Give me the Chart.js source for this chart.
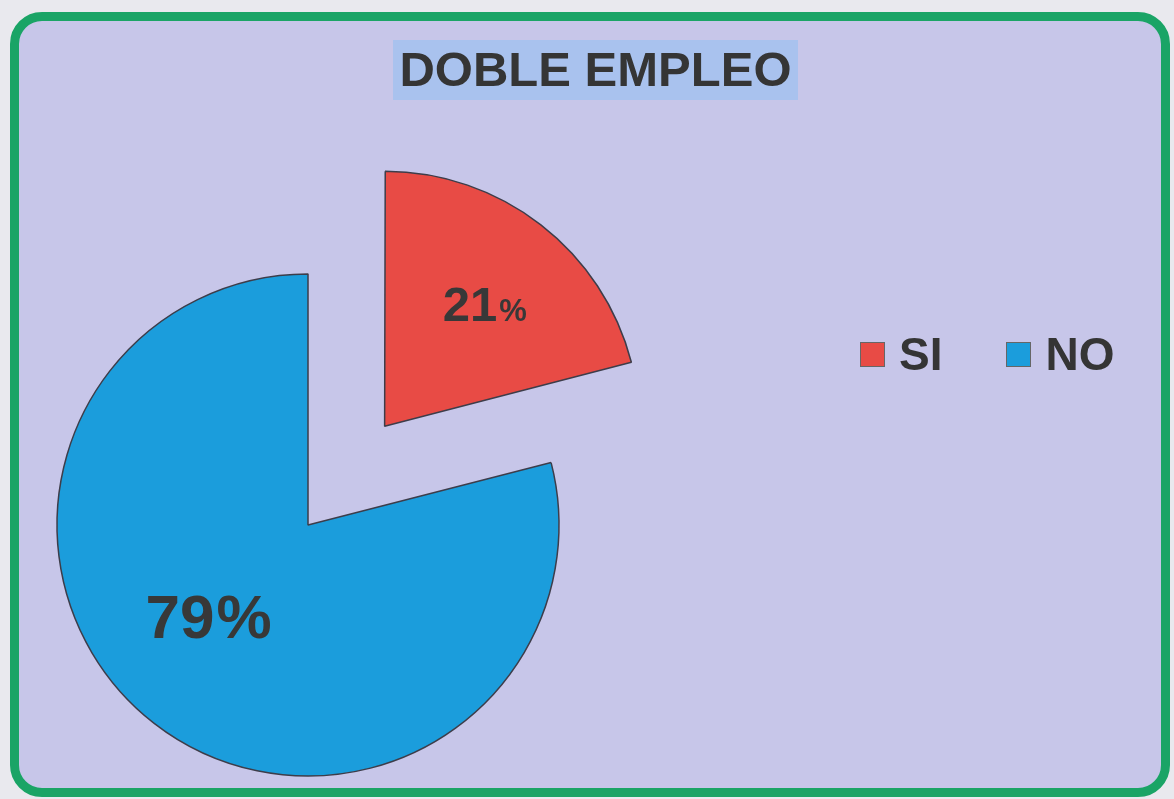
<!DOCTYPE html>
<html>
<head>
<meta charset="utf-8">
<script src="https://cdn.jsdelivr.net/npm/chart.js@4.4.0/dist/chart.umd.min.js"></script>
<style>
  html, body { margin: 0; padding: 0; }
  body {
    width: 1174px; height: 799px; overflow: hidden;
    background: #e9e9ee; position: relative;
    font-family: "Liberation Sans", Arial, sans-serif;
  }
  .frame {
    position: absolute; left: 10px; top: 12px; width: 1142px; height: 767px;
    border: 9px solid #1aa466; border-radius: 32px; background: #c7c6e9;
  }
  .title {
    position: absolute; left: 393px; top: 40px; width: 405px; height: 60px;
    background: #a9c2ee; color: #353535; font-weight: bold; font-size: 49px;
    line-height: 58px; text-align: center;
  }
  #chartBox { position: absolute; left: 0; top: 0; width: 1174px; height: 799px; }
  #legend {
    position: absolute; left: 860px; top: 327px; display: flex; align-items: center;
    color: #353535; font-weight: bold; font-size: 46px;
  }
  #legend .item { display: flex; align-items: center; margin-right: 64px; }
  #legend .box { width: 25px; height: 25px; margin-right: 14px; border: 1px solid #666; box-sizing: border-box; }
</style>
</head>
<body>
<div class="frame"></div>
<div class="title">DOBLE EMPLEO</div>
<div id="chartBox"><canvas id="pieChart" width="1174" height="799"></canvas></div>
<div id="legend"></div>
<script>
const categories = ['SI', 'NO'];
const percentages = [21, 79];
const sliceColors = ['#e84b45', '#1b9ddc'];

// draws the percent labels inside each slice, the "%" a bit smaller for SI
const sliceLabels = {
    id: 'sliceLabels',
    afterDatasetsDraw(chart) {
        const ctx = chart.ctx;
        const meta = chart.getDatasetMeta(0);
        const sizes = [49, 62];
        const pctSizes = [31, 62];
        const nudge = [1, 10]; // degrees
        const frac = [0.63, 0.54];
        meta.data.forEach((arc, i) => {
            const p = arc.getProps(['x', 'y', 'startAngle', 'endAngle', 'outerRadius'], true);
            const half = (p.startAngle + p.endAngle) / 2;
            const shift = (arc.options.offset || 0) / 4;
            const cx = p.x + Math.cos(half) * shift;
            const cy = p.y + Math.sin(half) * shift;
            const a = half + nudge[i] * Math.PI / 180;
            const r = p.outerRadius * frac[i];
            const x = cx + Math.cos(a) * r;
            const y = cy + Math.sin(a) * r;

            const num = String(percentages[i]);
            ctx.save();
            ctx.fillStyle = '#383838';
            ctx.textBaseline = 'alphabetic';
            ctx.textAlign = 'left';
            ctx.font = 'bold ' + sizes[i] + 'px "Liberation Sans", Arial, sans-serif';
            const w1 = ctx.measureText(num).width;
            ctx.font = 'bold ' + pctSizes[i] + 'px "Liberation Sans", Arial, sans-serif';
            const w2 = ctx.measureText('%').width;
            const left = x - (w1 + w2) / 2;
            const base = y + sizes[i] * 0.36;
            ctx.font = 'bold ' + sizes[i] + 'px "Liberation Sans", Arial, sans-serif';
            ctx.fillText(num, left, base);
            ctx.font = 'bold ' + pctSizes[i] + 'px "Liberation Sans", Arial, sans-serif';
            ctx.fillText('%', left + w1 + 2, base);
            ctx.restore();
        });
    }
};

const pieChart = new Chart(document.getElementById('pieChart').getContext('2d'), {
    type: 'pie',
    data: {
        labels: categories,
        datasets: [{
            data: percentages,
            backgroundColor: sliceColors,
            borderColor: '#3d3d4a',
            borderWidth: 1.5,
            offset: [500, 0],
            hoverOffset: 0,
            clip: false
        }]
    },
    options: {
        responsive: false,
        animation: false,
        radius: 251,
        layout: { padding: { left: 0, right: 558, top: 251, bottom: 0 } },
        events: [],
        plugins: {
            legend: { display: false },
            title: { display: false },
            tooltip: { enabled: false }
        }
    },
    plugins: [sliceLabels]
});

// legend built from the chart's own labels and colours
const legendEl = document.getElementById('legend');
pieChart.data.labels.forEach((label, i) => {
    const item = document.createElement('div');
    item.className = 'item';
    const box = document.createElement('span');
    box.className = 'box';
    box.style.background = pieChart.data.datasets[0].backgroundColor[i];
    const txt = document.createElement('span');
    txt.textContent = label;
    item.appendChild(box);
    item.appendChild(txt);
    legendEl.appendChild(item);
});
</script>
</body>
</html>
